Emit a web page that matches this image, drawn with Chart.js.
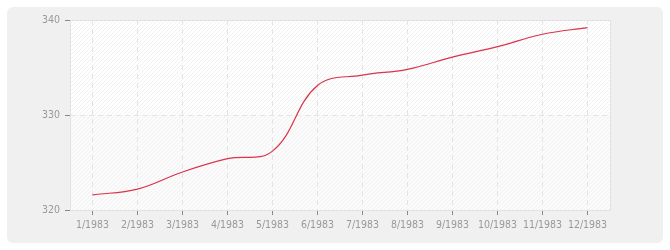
<!DOCTYPE html>
<html>
<head>
<meta charset="utf-8">
<script src="https://cdn.jsdelivr.net/npm/chart.js@4"></script>
<style>
  html, body { margin: 0; padding: 0; background: #fff; }
  #wrap { width: 670px; height: 250px; }
</style>
</head>
<body>
<div id="wrap"><canvas id="chart" width="670" height="250"></canvas></div>
<script>
// chart data
const months = ['1/1983', '2/1983', '3/1983', '4/1983', '5/1983', '6/1983',
                '7/1983', '8/1983', '9/1983', '10/1983', '11/1983', '12/1983'];
const values = [321.6, 322.2, 324.0, 325.4, 326.2, 333.1,
                334.2, 334.8, 336.1, 337.2, 338.5, 339.2];
const yTicks = [320, 330, 340];

const labelColor = '#999';
const labelFont = { family: "'DejaVu Sans Condensed', 'DejaVu Sans', sans-serif", size: 10.5 };

// Function to draw the grey panel and the hatched plot area
const backgroundPlugin = {
    id: 'background',
    beforeDraw(chart) {
        const ctx = chart.ctx;
        const area = chart.chartArea;
        const y = chart.scales.y;
        ctx.save();

        // grey rounded panel
        ctx.fillStyle = '#f0f0f0';
        ctx.beginPath();
        ctx.roundRect(7, 7, 656, 236, 6);
        ctx.fill();

        // plot area bands
        const mid = y.getPixelForValue(330);
        ctx.fillStyle = '#ffffff';
        ctx.fillRect(area.left, area.top, area.width, mid - area.top);
        ctx.fillStyle = '#fbfbfb';
        ctx.fillRect(area.left, mid, area.width, area.bottom - mid);

        // diagonal hatching
        ctx.beginPath();
        ctx.rect(area.left, area.top, area.width, area.height);
        ctx.clip();
        ctx.lineWidth = 1;
        const h = area.height;
        for (let x = area.left - h; x < area.right + h; x += 4) {
            ctx.strokeStyle = '#f1f1f1';
            ctx.beginPath();
            ctx.moveTo(x, area.bottom);
            ctx.lineTo(x + h, area.top);
            ctx.stroke();
        }
        ctx.restore();
    },
    afterDraw(chart) {
        const ctx = chart.ctx;
        const area = chart.chartArea;
        ctx.save();
        ctx.strokeStyle = '#e2e2e2';
        ctx.lineWidth = 1;
        ctx.beginPath();
        ctx.moveTo(area.left, area.top + 0.5);
        ctx.lineTo(area.right + 0.5, area.top + 0.5);
        ctx.lineTo(area.right + 0.5, area.bottom);
        ctx.stroke();
        ctx.restore();
    }
};

const ctx = document.getElementById('chart').getContext('2d');
const lineChart = new Chart(ctx, {
    type: 'line',
    data: {
        labels: months,
        datasets: [
            {
                data: values,
                borderColor: '#d9344c',
                borderWidth: 1.2,
                pointRadius: 0,
                tension: 0.4,
                fill: false
            }
        ]
    },
    options: {
        responsive: false,
        animation: false,
        events: [],
        layout: {
            padding: { left: 0, right: 60, top: 20, bottom: 0 }
        },
        scales: {
            x: {
                offset: true,
                grid: {
                    color: '#e4e4e4',
                    tickColor: '#888',
                    tickLength: 5
                },
                border: { color: '#e2e2e2', dash: [5, 4] },
                ticks: {
                    color: labelColor,
                    font: labelFont,
                    padding: 4,
                    maxRotation: 0,
                    autoSkip: false
                },
                afterFit(scale) { scale.height = 40; }
            },
            y: {
                min: 320,
                max: 340,
                afterBuildTicks(scale) {
                    scale.ticks = yTicks.map(v => ({ value: v }));
                },
                grid: {
                    color: '#e4e4e4',
                    tickColor: '#888',
                    tickLength: 5
                },
                border: { color: '#e2e2e2', dash: [5, 4] },
                ticks: {
                    color: labelColor,
                    font: labelFont,
                    padding: 5
                },
                afterFit(scale) { scale.width = 70; }
            }
        },
        plugins: {
            legend: { display: false },
            tooltip: { enabled: false }
        }
    },
    plugins: [backgroundPlugin]
});
</script>
</body>
</html>
